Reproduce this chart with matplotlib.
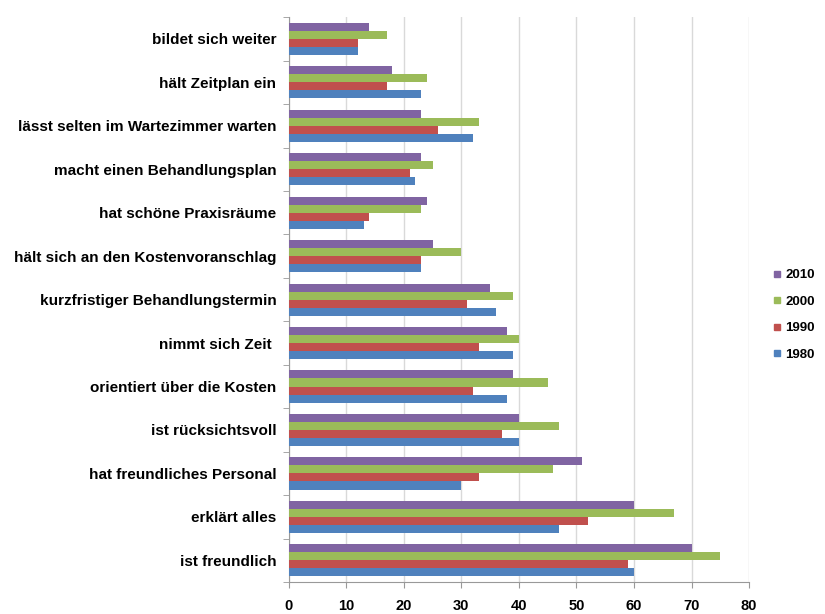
import numpy as np
import matplotlib
matplotlib.use("Agg")
from matplotlib import pyplot as plt
from matplotlib.lines import Line2D

plt.rcParams['font.family'] = ['Liberation Sans', 'DejaVu Sans']

# categories, top to bottom as they appear on the chart
categories = [
    "bildet sich weiter",
    "hält Zeitplan ein",
    "lässt selten im Wartezimmer warten",
    "macht einen Behandlungsplan",
    "hat schöne Praxisräume",
    "hält sich an den Kostenvoranschlag",
    "kurzfristiger Behandlungstermin",
    "nimmt sich Zeit ",
    "orientiert über die Kosten",
    "ist rücksichtsvoll",
    "hat freundliches Personal",
    "erklärt alles",
    "ist freundlich",
]

years = ["2010", "2000", "1990", "1980"]
v2010 = [14, 18, 23, 23, 24, 25, 35, 38, 39, 40, 51, 60, 70]
v2000 = [17, 24, 33, 25, 23, 30, 39, 40, 45, 47, 46, 67, 75]
v1990 = [12, 17, 26, 21, 14, 23, 31, 33, 32, 37, 33, 52, 59]
v1980 = [12, 23, 32, 22, 13, 23, 36, 39, 38, 40, 30, 47, 60]
xticks = [0, 10, 20, 30, 40, 50, 60, 70, 80]

colors = ["#8064A2", "#9BBB59", "#C0504D", "#4F81BD"]

fig = plt.figure(figsize=(8.25, 6.14), dpi=100)
ax = fig.add_axes([0.350, 0.052, 0.558, 0.920])

n = len(categories)
ypos = np.arange(n)[::-1]  # first category at the top
h = 0.185
series = [v2010, v2000, v1990, v1980]
for i, (vals, col) in enumerate(zip(series, colors)):
    offs = (1.5 - i) * h
    ax.barh(ypos + offs, vals, height=h, color=col, zorder=3)

ax.set_ylim(-0.5, n - 0.5)
ax.set_xlim(0, 80)
ax.set_xticks(xticks)
ax.set_xticklabels([str(t) for t in xticks], fontsize=10.5, fontweight="bold")
ax.set_yticks(ypos)
ax.set_yticklabels(categories, fontsize=11, fontweight="bold")
ax.tick_params(axis="y", length=0, pad=9)
ax.tick_params(axis="x", length=4, color="#999999", pad=8)
# small ticks between category groups
ax.set_yticks(np.arange(-0.5, n, 1.0), minor=True)
ax.tick_params(axis="y", which="minor", length=4, color="#999999")

ax.grid(axis="x", color="#d9d9d9", linewidth=1, zorder=0)
for s in ["top", "right"]:
    ax.spines[s].set_visible(False)
for s in ["left", "bottom"]:
    ax.spines[s].set_color("#999999")

handles = [Line2D([], [], marker="s", linestyle="none", markersize=5,
                  markerfacecolor=c, markeredgecolor=c) for c in colors]
leg = fig.legend(handles, years, loc="center left", bbox_to_anchor=(0.918, 0.487),
                 frameon=False, handletextpad=0.0, handlelength=1.2,
                 labelspacing=1.08, prop={"weight": "bold", "size": 9.5})

fig.savefig("out.png", dpi=100)
